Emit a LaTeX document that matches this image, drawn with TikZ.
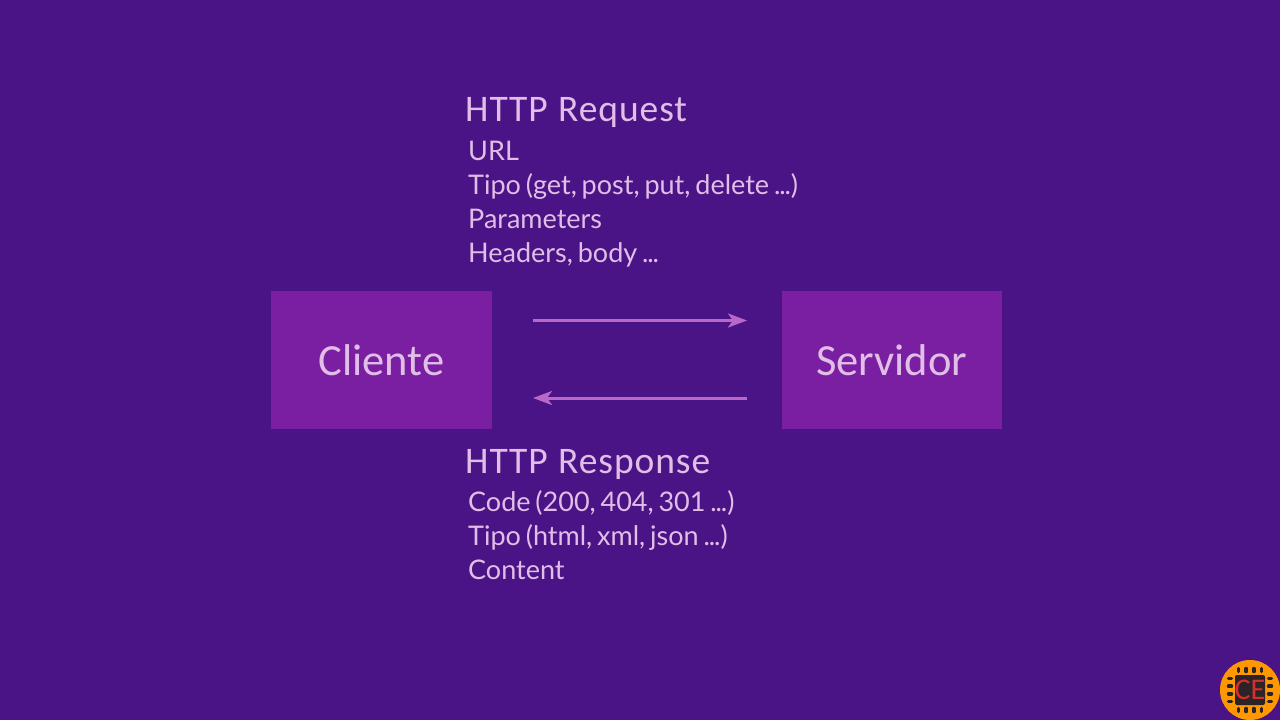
\documentclass[tikz,border=0pt]{standalone}
\usepackage{fontspec}
\setmainfont{Carlito}
\newfontfamily\bodyfont[WordSpace=0.7]{Lato}
\newfontfamily\headfont[LetterSpace=2.5,WordSpace=1.1]{Carlito}
\newcommand{\dts}{.\kern-1.1pt.\kern-1.1pt.}
\usetikzlibrary{arrows.meta}
\definecolor{bgc}{HTML}{4A1486}
\definecolor{boxc}{HTML}{7B1FA2}
\definecolor{txtc}{HTML}{E1BEE7}
\definecolor{arrc}{HTML}{BA68C8}
\definecolor{orangec}{HTML}{FF9800}
\definecolor{chipc}{HTML}{2B2326}
\definecolor{redc}{HTML}{D32F2F}
\tikzset{
  x=1pt,y=-1pt,
  boxn/.style={fill=boxc,draw=none,minimum width=220.5pt,minimum height=138pt,inner sep=0pt,text=txtc,font=\fontsize{44.5}{44.5}\selectfont},
  headn/.style={anchor=base west,inner sep=0pt,text=txtc,font=\headfont\fontsize{37.5}{37.5}\selectfont},
  bodyn/.style={anchor=base west,inner sep=0pt,text=txtc,font=\bodyfont\fontsize{27}{27}\selectfont},
  flow/.style={draw=arrc,line width=3pt,-{Stealth[length=19pt,width=14pt,inset=5pt]}},
  pin/.style={draw=chipc,line width=3.5pt,line cap=round},
}
\begin{document}
\begin{tikzpicture}
\fill[bgc] (0,0) rectangle (1280,720);
\useasboundingbox (0,0) rectangle (1280,720);
\node[boxn] (cli) at (381.5,360) {Cliente};
\node[boxn] (srv) at (891.75,360) {Servidor};
\coordinate (r1) at (533,320.5);
\coordinate (r2) at (747,320.5);
\coordinate (s1) at (747,398);
\coordinate (s2) at (533,398);
\draw[flow] (r1) -- (r2);
\draw[flow] (s1) -- (s2);
\node[headn] (h1) at (465,121.5) {HTTP Request};
\node[bodyn] (a1) at (468,160.5) {URL};
\node[bodyn] (a2) at (468,194.5) {Tipo (get, post, put, delete \dts)};
\node[bodyn] (a3) at (468,228.5) {Parameters};
\node[bodyn] (a4) at (468,262.5) {Headers, body \dts};
\node[headn] (h2) at (465,473.5) {HTTP Response};
\node[bodyn] (b1) at (468,511.5) {Code (200, 404, 301 \dts)};
\node[bodyn] (b2) at (468,545.5) {Tipo (html, xml, json \dts)};
\node[bodyn] (b3) at (468,579.5) {Content};
% logo
\fill[orangec] (1250,690) circle (30);
\fill[chipc,rounded corners=2pt] (1235,675) rectangle (1265,705);
\foreach \p in {-11.4,-3.8,3.8,11.4}{
  \draw[pin] (1250+\p,668.5) -- (1250+\p,671.5);
  \draw[pin] (1250+\p,708.5) -- (1250+\p,711.5);
  \draw[pin] (1228.5,690+\p) -- (1231.5,690+\p);
  \draw[pin] (1268.5,690+\p) -- (1271.5,690+\p);
}
\node[inner sep=0pt,text=redc,font=\fontsize{30}{30}\selectfont] (logo) at (1250,690) {CE};
\end{tikzpicture}
\end{document}
